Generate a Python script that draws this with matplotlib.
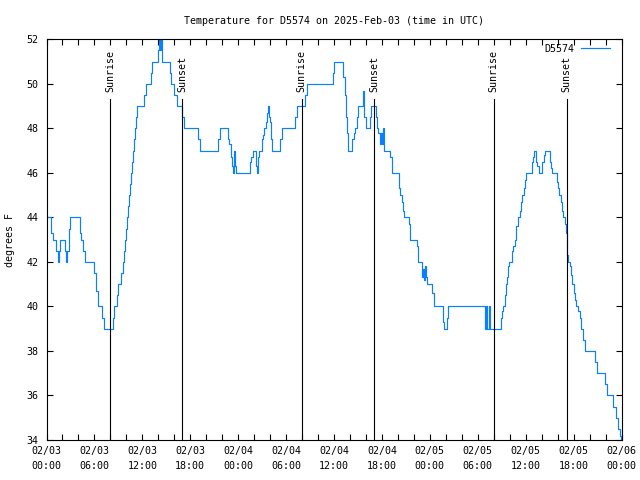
import matplotlib
matplotlib.use("Agg")
import matplotlib.pyplot as plt
import matplotlib.dates as mdates
import pandas as pd

# --- Data (hours after 2025-02-03 00:00 UTC, temperature in F, step values) ---
hours = [
    0.0, 0.59, 0.79, 1.21, 1.42, 1.55, 1.65, 2.26, 2.47, 2.59, 2.76, 2.97,
    4.18, 4.35, 4.6, 4.81, 5.94, 6.15, 6.44, 6.94, 7.15, 8.28, 8.45, 8.86,
    8.99, 9.37, 9.53, 9.70, 9.83, 9.95, 10.08, 10.16, 10.29, 10.41, 10.54,
    10.66, 10.79, 10.91, 11.08, 11.25, 11.37, 12.21, 12.46, 13.05, 13.21,
    13.97, 14.09, 14.22, 14.3, 14.43, 15.43, 15.63, 15.97, 16.39, 17.02,
    17.23, 18.98, 19.23, 21.49, 21.74, 22.75, 22.91, 23.08, 23.21, 23.37,
    23.5, 23.62, 23.79, 25.51, 25.6, 25.8, 26.22, 26.3, 26.43, 26.55, 26.97,
    27.1, 27.26, 27.47, 27.6, 27.72, 27.8, 27.93, 28.1, 28.22, 29.27, 29.45,
    31.15, 31.36, 32.4, 32.61, 35.83, 36.04, 37.09, 37.38, 37.51, 37.63,
    37.8, 38.22, 38.47, 38.64, 38.89, 39.05, 39.6, 39.72, 39.8, 40.02, 40.52,
    40.64, 41.27, 41.4, 41.56, 41.77, 41.9, 42.02, 42.11, 42.23, 42.31,
    43.07, 43.24, 44.11, 44.28, 44.49, 44.7, 44.82, 45.33, 45.49, 46.37,
    46.5, 47.0, 47.12, 47.25, 47.37, 47.54, 47.67, 48.29, 48.46, 49.63,
    49.76, 50.09, 50.26, 54.86, 54.98, 55.11, 55.36, 55.49, 56.95, 57.03,
    57.2, 57.37, 57.49, 57.62, 57.74, 57.87, 58.29, 58.45, 58.62, 58.83,
    59.0, 59.25, 59.46, 59.58, 59.75, 59.88, 60.0, 60.75, 60.92, 61.09,
    61.3, 61.42, 61.63, 62.09, 62.26, 62.38, 63.05, 63.22, 63.31, 63.89,
    64.06, 64.18, 64.39, 64.52, 64.68, 64.89, 65.1, 65.14, 65.23, 65.31,
    65.56, 65.73, 65.86, 66.02, 66.23, 66.36, 66.57, 66.77, 66.98, 67.19,
    67.4, 68.66, 68.87, 69.91, 70.2, 70.96, 71.25, 71.58, 71.75, 71.92,
]
temps = [
    44, 43.3, 43, 42.5, 42, 42.5, 43, 42.5, 42, 42.5, 43.5, 44,
    43.3, 43, 42.5, 42, 41.5, 40.7, 40, 39.5, 39, 39.5, 40, 40.5,
    41, 41.5, 42, 42.5, 43, 43.5, 44, 44.5, 45, 45.5, 46,
    46.5, 47, 47.5, 48, 48.5, 49, 49.5, 50, 50.5, 51,
    51.5, 52, 51.5, 52, 51, 50.5, 50, 49.5, 49, 48.5,
    48, 47.5, 47, 47.5, 48, 47.5, 47.3, 46.7, 46.3, 46,
    47, 46.3, 46, 46.5, 46.7, 47, 46.3, 46, 46.7, 47, 47.5,
    47.7, 48, 48.3, 48.7, 49, 48.5, 48.3, 47.5, 47, 47.5, 48,
    48.5, 49, 49.5, 50, 50.5, 51, 50.3, 49.5, 48.5, 47.8,
    47, 47.5, 47.8, 48, 48.5, 49, 49.7, 49.3, 48.5, 48, 48.5,
    49, 48.5, 48, 47.8, 47.3, 47.8, 47.3, 48, 47.3, 47,
    46.7, 46, 45.3, 45, 44.7, 44.3, 44, 43.7, 43, 42.7,
    42, 41.3, 41.7, 41.2, 41.8, 41.3, 41, 40.6, 40, 39.3,
    39, 39.5, 40, 39, 40, 39, 40, 39, 39.5, 39.8,
    40, 40.5, 41, 41.3, 41.8, 42, 42.5, 42.7, 43, 43.6,
    44, 44.3, 44.7, 45, 45.3, 45.7, 46, 46.5, 46.7, 47,
    46.5, 46.3, 46, 46.5, 46.8, 47, 46.5, 46.2, 46, 45.6,
    45.3, 45, 44.7, 44.3, 44, 43.7, 43.3, 42.7, 42.3, 42,
    41.8, 41.4, 41, 40.6, 40.3, 40, 39.8, 39.5, 39, 38.5,
    38, 37.5, 37, 36.5, 36, 35.5, 35, 34.5, 34.2, 34,
]

sunrise_hours = [7.94, 31.95, 55.99]
sunset_hours = [17.02, 41.06, 65.14]

START = pd.Timestamp("2025-02-03 00:00")
times = START + pd.to_timedelta(hours, unit="h")
sunrise_times = START + pd.to_timedelta(sunrise_hours, unit="h")
sunset_times = START + pd.to_timedelta(sunset_hours, unit="h")

FONT = "DejaVu Sans Mono"
FS = 7.2
plt.rcParams["font.family"] = FONT
plt.rcParams["font.size"] = FS

fig = plt.figure(figsize=(6.4, 4.8), dpi=100)
ax = fig.add_axes([46.5 / 640, 40 / 480, 575 / 640, 400.7 / 480])

ax.plot(times, temps, drawstyle="steps-post", color="#0a80ff", lw=0.85, label="D5574")

# sunrise / sunset markers
for t in sunrise_times:
    ax.plot([t, t], [34, 49.34], color="black", lw=0.8)
    ax.text(t, 49.62, "Sunrise", rotation=90, ha="center", va="bottom", fontsize=FS)
for t in sunset_times:
    ax.plot([t, t], [34, 49.34], color="black", lw=0.8)
    ax.text(t, 49.62, "Sunset", rotation=90, ha="center", va="bottom", fontsize=FS)

ax.set_xlim(START, START + pd.Timedelta(hours=72))
ax.set_ylim(34, 52)
ax.set_yticks(range(34, 53, 2))

ax.xaxis.set_major_locator(mdates.HourLocator(byhour=[0, 6, 12, 18]))
ax.xaxis.set_minor_locator(mdates.HourLocator(interval=2))
ax.xaxis.set_major_formatter(mdates.DateFormatter("%m/%d\n%H:%M"))

ax.tick_params(which="both", direction="in", top=True, right=True,
               length=4.5, width=0.8, labelsize=FS)
ax.tick_params(axis="x", pad=4.5)
ax.tick_params(axis="y", pad=6)
for lbl in ax.get_xticklabels():
    lbl.set_linespacing(1.55)

for s in ax.spines.values():
    s.set_linewidth(0.8)

ax.set_ylabel("degrees F", fontsize=FS, labelpad=8)
ax.set_title("Temperature for D5574 on 2025-Feb-03 (time in UTC)", fontsize=FS, pad=11)

ax.legend(loc="upper right", bbox_to_anchor=(0.984, 0.994), frameon=False,
          markerfirst=False, fontsize=FS, handlelength=2.9, handletextpad=0.7,
          borderaxespad=0, borderpad=0.2)

fig.savefig("out.png", dpi=100)
